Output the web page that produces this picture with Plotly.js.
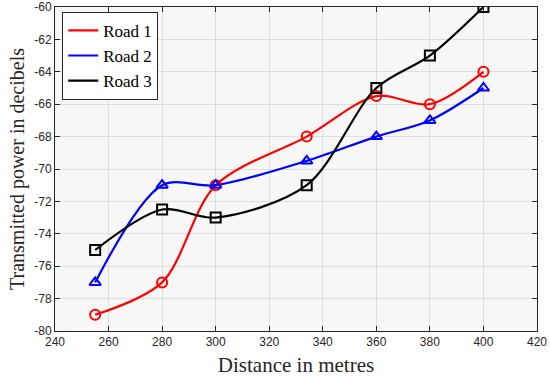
<!DOCTYPE html>
<html>
<head>
<meta charset="utf-8">
<script src="https://cdn.plot.ly/plotly-3.0.1.min.js"></script>
<style>html,body{margin:0;padding:0;background:#fff;}#chart{width:550px;height:382px;}</style>
</head>
<body>
<div id="chart"></div>
<script>
const distance = [255, 280, 300, 334, 360, 380, 400];
const road1 = [-79, -77, -71, -68, -65.5, -66, -64];
const road2 = [-77, -71, -71, -69.5, -68, -67, -65];
const road3 = [-75, -72.5, -73, -71, -65, -63, -60];
const seriesNames = ['Road 1', 'Road 2', 'Road 3'];
const seriesColors = ['#ff0000', '#0000ff', '#000000'];
const seriesSymbols = ['circle-open', 'triangle-up-open', 'square-open'];
const xTicks = [240, 260, 280, 300, 320, 340, 360, 380, 400, 420];
const yTicks = [-80, -78, -76, -74, -72, -70, -68, -66, -64, -62, -60];

const allY = [road1, road2, road3];
const traces = [];
allY.forEach((ys, i) => {
  traces.push({
    x: distance, y: ys, name: seriesNames[i], type: 'scatter', mode: 'lines',
    line: {color: seriesColors[i], width: 2.2, shape: 'spline', smoothing: 0.9},
    showlegend: true, hoverinfo: 'skip'
  });
});
allY.forEach((ys, i) => {
  traces.push({
    x: distance, y: ys, name: seriesNames[i], type: 'scatter', mode: 'markers',
    marker: {symbol: seriesSymbols[i], size: 10, color: seriesColors[i], line: {width: 2, color: seriesColors[i]}},
    showlegend: false
  });
});

const axisCommon = {
  showline: true, linecolor: '#262626', linewidth: 1, mirror: 'ticks',
  ticks: 'inside', ticklen: 5, tickcolor: '#262626',
  showgrid: true, gridcolor: '#dedede', gridwidth: 1, zeroline: false,
  tickfont: {family: 'Liberation Sans, Arial, sans-serif', size: 12, color: '#262626'}
};

const layout = {
  width: 550, height: 382,
  margin: {l: 55, r: 13, t: 7, b: 51},
  paper_bgcolor: '#ffffff', plot_bgcolor: '#f7f7f7',
  xaxis: Object.assign({}, axisCommon, {
    range: [240, 420], tickvals: xTicks, ticktext: xTicks.map(String),
    title: {text: 'Distance in metres', font: {family: 'Liberation Serif, Times New Roman, serif', size: 21, color: '#262626'}, standoff: 8}
  }),
  yaxis: Object.assign({}, axisCommon, {
    range: [-80, -60], tickvals: yTicks, ticktext: yTicks.map(String),
    title: {text: 'Transmitted power in decibels', font: {family: 'Liberation Serif, Times New Roman, serif', size: 20, color: '#262626'}, standoff: 4}
  }),
  legend: {
    x: 0.015, y: 0.985, xanchor: 'left', yanchor: 'top',
    bgcolor: '#ffffff', bordercolor: '#262626', borderwidth: 1,
    font: {family: 'Liberation Serif, Times New Roman, serif', size: 17, color: '#000'},
    tracegroupgap: 0, itemwidth: 30
  },
  showlegend: true
};

Plotly.newPlot('chart', traces, layout, {displayModeBar: false, staticPlot: true});
</script>
</body>
</html>
